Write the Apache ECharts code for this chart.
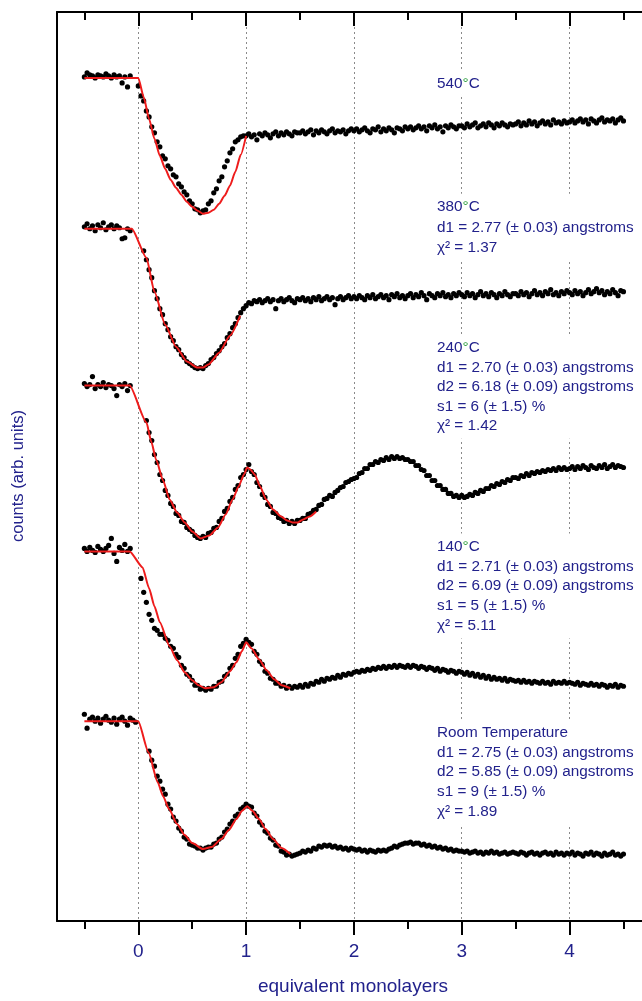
<!DOCTYPE html>
<html><head><meta charset="utf-8">
<script src="https://cdn.jsdelivr.net/npm/echarts@6/dist/echarts.min.js"></script>
<style>html,body{margin:0;padding:0;background:#fff}#c{width:642px;height:1001px}</style>
</head><body><div id="c"></div>
<script>
// sampling grid (equivalent monolayers)
const X = [
-0.5,-0.475,-0.45,-0.425,-0.4,-0.375,-0.35,-0.325,-0.3,-0.275,-0.25,-0.225,-0.2,-0.175,-0.15,-0.125,-0.1,-0.075,-0.05,-0.025,
0,0.025,0.05,0.075,0.1,0.125,0.15,0.175,0.2,0.225,0.25,0.275,0.3,0.325,0.35,0.375,0.4,0.425,0.45,0.475,
0.5,0.525,0.55,0.575,0.6,0.625,0.65,0.675,0.7,0.725,0.75,0.775,0.8,0.825,0.85,0.875,0.9,0.925,0.95,0.975,
1,1.025,1.05,1.075,1.1,1.125,1.15,1.175,1.2,1.225,1.25,1.275,1.3,1.325,1.35,1.375,1.4,1.425,1.45,1.475,
1.5,1.525,1.55,1.575,1.6,1.625,1.65,1.675,1.7,1.725,1.75,1.775,1.8,1.825,1.85,1.875,1.9,1.925,1.95,1.975,
2,2.025,2.05,2.075,2.1,2.125,2.15,2.175,2.2,2.225,2.25,2.275,2.3,2.325,2.35,2.375,2.4,2.425,2.45,2.475,
2.5,2.525,2.55,2.575,2.6,2.625,2.65,2.675,2.7,2.725,2.75,2.775,2.8,2.825,2.85,2.875,2.9,2.925,2.95,2.975,
3,3.025,3.05,3.075,3.1,3.125,3.15,3.175,3.2,3.225,3.25,3.275,3.3,3.325,3.35,3.375,3.4,3.425,3.45,3.475,
3.5,3.525,3.55,3.575,3.6,3.625,3.65,3.675,3.7,3.725,3.75,3.775,3.8,3.825,3.85,3.875,3.9,3.925,3.95,3.975,
4,4.025,4.05,4.075,4.1,4.125,4.15,4.175,4.2,4.225,4.25,4.275,4.3,4.325,4.35,4.375,4.4,4.425,4.45,4.475,
4.5];

// measured counts (arb. units, stacked offsets)
const s540 = [
845,849,847,846,844,847,846,845,848,846,844,847,845,846,839,845,835,846,null,null,
836,826,821,811,805,795,789,780,775,766,763,756,753,747,745,738,735,730,727,721,
718,713,712,709,711,712,718,721,729,733,741,745,755,761,769,773,780,782,785,786,
786,788,785,787,782,788,786,789,787,784,788,790,786,789,787,790,788,786,790,789,
789,791,788,790,792,787,791,789,792,790,788,791,793,789,791,790,792,788,791,793,
791,793,790,792,794,791,789,793,792,795,790,793,791,794,792,789,794,793,791,795,
793,795,792,794,796,793,795,791,796,794,797,793,795,790,796,794,797,795,793,796,
796,794,798,795,797,799,794,796,798,795,799,797,794,798,796,799,797,795,798,797,
798,800,796,799,797,801,798,800,796,799,801,798,800,797,802,799,800,798,801,799,
800,802,799,801,803,800,802,798,803,801,799,802,804,800,802,801,803,799,802,804,
801];
const s380 = [
695,698,693,696,691,697,694,699,692,695,697,693,696,694,683,684,693,691,null,null,
null,null,671,662,652,644,631,623,613,607,598,592,585,581,575,572,567,564,560,558,
556,554,553,554,553,556,558,562,564,568,571,575,578,584,588,594,598,604,609,613,
616,619,618,621,620,622,619,621,623,620,622,613,621,623,620,622,624,621,619,623,
622,624,621,623,620,624,622,625,621,623,625,622,624,617,623,625,622,624,626,623,
625,623,626,624,622,626,624,627,623,625,627,624,626,622,627,625,628,624,626,623,
626,628,624,627,625,629,626,622,628,626,624,628,626,629,625,627,624,628,626,629,
627,625,629,626,628,624,627,630,626,628,625,629,627,624,628,626,630,627,625,628,
628,626,630,627,629,625,628,631,627,629,626,630,628,632,627,629,626,630,628,631,
629,627,631,628,630,626,629,632,628,630,633,629,631,627,630,628,632,629,626,631,
630];
const s240 = [
538,535,537,545,533,537,535,539,534,537,536,533,526,537,535,538,531,536,null,null,
null,null,null,501,489,481,467,459,447,441,431,426,418,415,408,406,400,399,394,392,
390,386,384,383,385,384,388,389,393,394,400,403,410,413,420,424,432,436,444,447,
452,457,450,447,439,435,427,424,417,415,409,408,404,403,400,401,398,400,398,401,
401,403,403,407,408,411,412,416,417,422,423,426,425,429,431,434,435,439,440,442,
443,444,448,449,453,453,457,457,460,459,462,461,464,462,465,463,465,463,464,462,
462,460,460,456,456,452,451,446,446,441,441,436,436,432,432,428,428,425,426,424,
426,424,425,427,426,429,428,431,430,433,433,436,435,438,437,440,439,442,441,444,
444,443,446,445,448,446,449,448,450,449,451,450,452,451,453,451,454,452,454,452,
453,455,452,455,453,456,454,452,456,454,453,456,454,457,453,455,457,454,456,455,
454];
const s140 = [
373,370,374,371,369,375,372,370,373,376,383,368,360,374,371,377,370,373,null,null,
null,343,329,319,307,301,293,291,287,287,283,281,275,273,267,264,256,253,247,245,
241,236,236,232,233,231,233,232,235,235,239,240,245,247,253,256,263,267,275,278,
282,279,277,270,267,260,257,250,248,243,242,238,238,235,236,233,235,233,235,234,
236,234,237,235,238,237,240,239,242,240,243,242,244,243,246,244,247,246,248,247,
249,250,249,251,250,252,251,253,252,254,253,255,253,255,254,256,254,256,255,254,
256,254,256,255,253,255,254,252,254,253,251,253,250,252,251,249,251,250,248,250,
249,247,249,246,248,245,247,244,246,243,245,242,244,242,243,241,243,240,242,241,
240,241,239,241,239,240,238,240,239,238,240,238,239,237,240,238,239,238,240,238,
239,238,237,239,236,238,237,236,238,236,237,235,237,236,234,236,235,237,234,236,
235];
const sRT = [
207,193,202,204,200,203,198,202,205,201,199,203,197,202,204,200,196,203,201,199,
null,null,null,null,170,161,155,145,140,132,127,117,112,104,100,93,90,84,82,77,
76,75,73,73,71,73,74,74,77,78,82,84,89,92,97,100,105,107,112,114,
117,115,114,108,105,99,96,90,88,83,81,76,75,70,69,66,67,65,66,67,
68,70,69,71,70,73,72,75,74,76,75,76,74,75,73,74,72,73,71,73,
72,71,72,70,71,69,71,70,69,71,70,71,70,72,73,75,74,76,77,78,
78,79,77,78,78,76,77,75,76,74,75,73,74,72,73,71,72,70,71,70,
70,69,70,68,69,70,68,69,67,69,68,70,68,69,67,68,69,67,68,69,
68,67,69,68,66,68,69,67,68,66,68,69,67,68,66,69,67,68,66,68,
67,69,66,68,67,65,68,67,69,66,68,67,65,68,66,67,69,66,67,65,
67];

// model fits (red)
const fit540X = [-0.5,0,0.05,0.1,0.15,0.2,0.25,0.3,0.35,0.4,0.45,0.5,0.55,0.6,0.65,0.7,0.75,0.8,0.85,0.9,0.95,1.0];
const fit540Y = [844,844,825,803,783,766,753,742,734,727,720,715,711,708,709,712,718,726,736,750,767,786];
const fit380X = [-0.5,-0.06,0.075,0.15,0.25,0.35,0.45,0.55,0.6,0.65,0.75,0.85,0.945];
const fit380Y = [693,693,664,630,597,575,560,554,554,557,569,586,606];
const fit240X = [-0.5,-0.08,0.076,0.12,0.165,0.23,0.29,0.36,0.43,0.5,0.58,0.66,0.74,0.81,0.875,0.93,0.98,1.01,1.04,1.08,1.13,1.185,1.25,1.325,1.38,1.43,1.48,1.53,1.59,1.65];
const fit240Y = [536,536,499,480,462,441,422,409,399,390,383,386,394,407,422,435,447,454,452,447,435,422,412,405,401,399,399,402,405,410];
const fit140X = [-0.5,-0.08,0.04,0.1,0.15,0.2,0.29,0.36,0.43,0.5,0.56,0.62,0.7,0.77,0.85,0.91,0.96,1.0,1.05,1.12,1.19,1.26,1.33,1.41];
const fit140Y = [370,370,354,333,315,299,275,261,249,241,236,233,234,239,250,259,270,279,273,262,251,242,236,233];
const fitRTX = [-0.5,0,0.094,0.18,0.23,0.285,0.36,0.43,0.5,0.6,0.68,0.77,0.84,0.91,0.96,1.01,1.06,1.12,1.18,1.25,1.33,1.41];
const fitRTY = [200,200,169,139,125,112,97,86,78,72,74,82,91,102,110,115,110,102,92,82,73,67];

// tick labels
const majorTicks = [0,1,2,3,4];
const minorTicks = [-0.5,0.5,1.5,2.5,3.5,4.5];

// annotation texts
const txt540 = ['540°C'];
const txt380 = ['380°C','d1 = 2.77 (± 0.03) angstroms','χ² = 1.37'];
const txt240 = ['240°C','d1 = 2.70 (± 0.03) angstroms','d2 = 6.18 (± 0.09) angstroms','s1 = 6 (± 1.5) %','χ² = 1.42'];
const txt140 = ['140°C','d1 = 2.71 (± 0.03) angstroms','d2 = 6.09 (± 0.09) angstroms','s1 = 5 (± 1.5) %','χ² = 5.11'];
const txtRT = ['Room Temperature','d1 = 2.75 (± 0.03) angstroms','d2 = 5.85 (± 0.09) angstroms','s1 = 9 (± 1.5) %','χ² = 1.89'];

const FONT = '"Liberation Sans", Arial, sans-serif';
const NAVY = '#22228c';
const GREEN = '#2f9e3f';
const RED = '#ee1c1c';

function pts(xs, ys){ const o=[]; xs.forEach((x,i)=>{ if(ys[i]!=null) o.push([x,ys[i]]); }); return o; }
function richLine(s){
  if (s.indexOf('°')<0) return '{n|'+s+'}';
  const p = s.split('°');
  let r = '';
  if (p[0]) r += '{n|'+p[0]+'}';
  r += '{d|°}';
  if (p[1]) r += '{n|'+p[1]+'}';
  return r;
}
function block(lines, left, firstCenter, lh){
  const padT = 3, padL = 4;
  return {
    type:'text', z:100, x:left-padL, y:firstCenter - lh/2 - padT,
    style:{
      text: lines.map(richLine).join('\n'),
      align:'left', verticalAlign:'top',
      backgroundColor:'#fff', padding:[padT,padL,padT,padL],
      rich:{
        n:{fontSize:15.3, fontFamily:FONT, fill:NAVY, lineHeight:lh},
        d:{fontSize:15.3, fontFamily:FONT, fill:GREEN, lineHeight:lh}
      }
    }
  };
}

const dotSets = [s540, s380, s240, s140, sRT];
const fits = [[fit540X,fit540Y],[fit380X,fit380Y],[fit240X,fit240Y],[fit140X,fit140Y],[fitRTX,fitRTY]];
const series = [];
dotSets.forEach(d=>series.push({type:'scatter', data:pts(X,d), symbol:'circle', symbolSize:5.2,
  itemStyle:{color:'#000', opacity:1}, z:2, silent:true}));
fits.forEach(f=>series.push({type:'line', data:pts(f[0],f[1]), showSymbol:false, smooth:0.2, smoothMonotone:'x',
  lineStyle:{color:RED, width:2}, z:3, silent:true}));

const XMIN = -0.754, XMAX = 4.672;
const baseX = {type:'value', min:XMIN, max:XMAX, gridIndex:0};
const option = {
  animation:false,
  backgroundColor:'#fff',
  grid:{left:57, right:0, top:12, bottom:79, containLabel:false},
  xAxis:[
    Object.assign({}, baseX, {position:'bottom',
      axisLine:{show:true, onZero:false, lineStyle:{color:'#000', width:2}},
      axisTick:{show:true, inside:false, length:14, customValues:majorTicks, lineStyle:{color:'#000', width:2}},
      axisLabel:{show:true, customValues:majorTicks, margin:21, fontSize:19, fontFamily:FONT, color:NAVY},
      splitLine:{show:true, lineStyle:{color:'#8a8a8a', width:1, type:[2,3]}},
      name:'equivalent monolayers', nameLocation:'middle', nameGap:56,
      nameTextStyle:{fontSize:19, fontFamily:FONT, color:NAVY, padding:[0,0,0,7]}
    }),
    Object.assign({}, baseX, {position:'bottom',
      axisLine:{show:false, onZero:false},
      axisTick:{show:true, inside:false, length:8, customValues:minorTicks, lineStyle:{color:'#000', width:2}},
      axisLabel:{show:false}, splitLine:{show:false}
    }),
    Object.assign({}, baseX, {position:'top',
      axisLine:{show:true, onZero:false, lineStyle:{color:'#000', width:2}},
      axisTick:{show:true, inside:true, length:14, customValues:majorTicks, lineStyle:{color:'#000', width:2}},
      axisLabel:{show:false}, splitLine:{show:false}
    }),
    Object.assign({}, baseX, {position:'top',
      axisLine:{show:false, onZero:false},
      axisTick:{show:true, inside:true, length:8, customValues:minorTicks, lineStyle:{color:'#000', width:2}},
      axisLabel:{show:false}, splitLine:{show:false}
    })
  ],
  yAxis:{type:'value', min:0, max:910, position:'left',
    axisLine:{show:true, onZero:false, lineStyle:{color:'#000', width:2}},
    axisTick:{show:false}, axisLabel:{show:false}, splitLine:{show:false}},
  graphic:[
    {type:'text', z:100, x:18, y:476, rotation:Math.PI/2,
     style:{text:'counts (arb. units)', fontSize:16.5, fontFamily:FONT, fill:NAVY, align:'center', verticalAlign:'middle'}},
    block(txt540, 437, 84, 19.5),
    block(txt380, 437, 207, 20.5),
    block(txt240, 437, 348, 19.5),
    block(txt140, 437, 546.5, 19.8),
    block(txtRT, 437, 733, 19.6)
  ],
  series: series
};
const chart = echarts.init(document.getElementById('c'), null, {renderer:'canvas'});
chart.setOption(option);
</script>
</body></html>
